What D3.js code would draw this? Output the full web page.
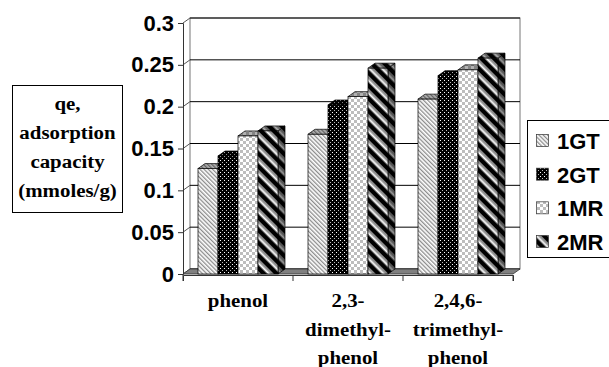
<!DOCTYPE html>
<html>
<head>
<meta charset="utf-8">
<script src="https://cdn.jsdelivr.net/npm/d3@7"></script>
<style>
    body { margin: 0; background: #fff; }
    svg { display: block; }
    .serif { font-family: "Liberation Serif", "Times New Roman", serif; font-weight: bold; font-size: 18px; }
    .sans { font-family: "Liberation Sans", Arial, sans-serif; font-weight: bold; font-size: 22px; }
</style>
</head>
<body>
<div id="chart"></div>
<script>
const categories = ['phenol', '2,3-dimethyl-phenol', '2,4,6-trimethyl-phenol'];
const categoryLines = [['phenol'], ['2,3-', 'dimethyl-', 'phenol'], ['2,4,6-', 'trimethyl-', 'phenol']];
const seriesNames = ['1GT', '2GT', '1MR', '2MR'];
const values1GT = [0.126, 0.167, 0.209];
const values2GT = [0.141, 0.202, 0.237];
const values1MR = [0.165, 0.212, 0.244];
const values2MR = [0.171, 0.246, 0.258];
const yTicks = [0, 0.05, 0.1, 0.15, 0.2, 0.25, 0.3];
const yLabelLines = ['qe,', 'adsorption', 'capacity', '(mmoles/g)'];

const seriesValues = [values1GT, values2GT, values1MR, values2MR];
const width = 609, height = 367;
const depth = { dx: 7, dy: -5 };
const stretch = 1.16; // serif labels are wider than tall in the original

const svg = d3.select('#chart')
    .append('svg')
    .attr('width', width)
    .attr('height', height);

const x0 = d3.scaleBand().domain(categories).range([183, 513]);
const x1 = d3.scaleBand().domain(seriesNames).range([15, 95]);
const y = d3.scaleLinear().domain([0, 0.3]).range([274, 23]);

// Fill patterns
const defs = svg.append('defs');

const p1 = defs.append('pattern').attr('id', 'pat-1GT')
    .attr('patternUnits', 'userSpaceOnUse').attr('width', 3).attr('height', 3)
    .attr('patternTransform', 'rotate(-45)');
p1.append('rect').attr('width', 3).attr('height', 3).attr('fill', '#fff');
p1.append('rect').attr('width', 1.3).attr('height', 3).attr('fill', '#8c8c8c');

const p2 = defs.append('pattern').attr('id', 'pat-2GT')
    .attr('patternUnits', 'userSpaceOnUse').attr('width', 4).attr('height', 4);
p2.append('rect').attr('width', 4).attr('height', 4).attr('fill', '#000');
p2.append('rect').attr('width', 1).attr('height', 1).attr('fill', '#fff');
p2.append('rect').attr('x', 2).attr('y', 2).attr('width', 1).attr('height', 1).attr('fill', '#bbb');

const p3 = defs.append('pattern').attr('id', 'pat-1MR')
    .attr('patternUnits', 'userSpaceOnUse').attr('width', 6).attr('height', 6);
p3.append('rect').attr('width', 6).attr('height', 6).attr('fill', '#fff');
p3.append('rect').attr('width', 3).attr('height', 3).attr('fill', '#bdbdbd');
p3.append('rect').attr('x', 3).attr('y', 3).attr('width', 3).attr('height', 3).attr('fill', '#bdbdbd');

const p4 = defs.append('pattern').attr('id', 'pat-2MR')
    .attr('patternUnits', 'userSpaceOnUse').attr('width', 9).attr('height', 9)
    .attr('patternTransform', 'rotate(-45)');
p4.append('rect').attr('width', 9).attr('height', 9).attr('fill', '#fff');
p4.append('rect').attr('width', 4.5).attr('height', 9).attr('fill', '#000');
p4.append('rect').attr('x', 6.5).attr('width', 2.5).attr('height', 9).attr('fill', '#8c8c8c');

const fillFor = name => `url(#pat-${name})`;

const [xLeft, xRight] = x0.range();

// Back wall
svg.append('rect')
    .attr('x', xLeft + depth.dx)
    .attr('y', y(0.3) + depth.dy)
    .attr('width', xRight - xLeft)
    .attr('height', y(0) - y(0.3))
    .attr('fill', '#fff')
    .attr('stroke', '#777')
    .attr('stroke-width', 1);

// Grid lines on the back wall, with the short diagonal across the side wall
yTicks.forEach(v => {
    svg.append('line')
        .attr('x1', xLeft + depth.dx).attr('x2', xRight + depth.dx)
        .attr('y1', y(v) + depth.dy).attr('y2', y(v) + depth.dy)
        .attr('stroke', '#000');
    svg.append('line')
        .attr('x1', xLeft).attr('x2', xLeft + depth.dx)
        .attr('y1', y(v)).attr('y2', y(v) + depth.dy)
        .attr('stroke', '#555');
});

// Floor
svg.append('path')
    .attr('d', `M${xLeft},${y(0)} L${xRight},${y(0)} L${xRight + depth.dx},${y(0) + depth.dy} L${xLeft + depth.dx},${y(0) + depth.dy} Z`)
    .attr('fill', '#808080')
    .attr('stroke', '#333')
    .attr('stroke-width', 0.8);

// Y axis
svg.append('g')
    .attr('transform', `translate(${xLeft},0)`)
    .call(d3.axisLeft(y).tickValues(yTicks).tickSize(5).tickPadding(4).tickFormat(d => String(d)))
    .call(g => g.select('.domain').attr('stroke', '#333'))
    .call(g => g.selectAll('line').attr('stroke', '#333'))
    .selectAll('text')
    .attr('class', 'sans')
    .attr('fill', '#000');

// X axis
svg.append('g')
    .attr('transform', `translate(0,${y(0) + 1})`)
    .call(d3.axisBottom(x0).tickSize(6).tickFormat(''))
    .call(g => g.selectAll('.tick').remove())
    .call(g => g.select('.domain').attr('stroke', '#333'))
    .call(g => {
        const edges = categories.map(c => x0(c)).concat([xRight]);
        g.selectAll('line.sep')
            .data(edges)
            .join('line')
            .attr('class', 'sep')
            .attr('x1', d => d).attr('x2', d => d)
            .attr('y1', 0).attr('y2', 6)
            .attr('stroke', '#333');
    });

// 3D bars
const barW = x1.bandwidth();
categories.forEach((cat, ci) => {
    seriesNames.forEach((name, si) => {
        const v = seriesValues[si][ci];
        const bx = x0(cat) + x1(name);
        const top = y(v);
        const base = y(0);
        const g = svg.append('g');

        const sidePath = `M${bx + barW},${top} L${bx + barW + depth.dx},${top + depth.dy} L${bx + barW + depth.dx},${base + depth.dy} L${bx + barW},${base} Z`;
        const topPath = `M${bx},${top} L${bx + depth.dx},${top + depth.dy} L${bx + barW + depth.dx},${top + depth.dy} L${bx + barW},${top} Z`;

        // Side face
        g.append('path').attr('d', sidePath).attr('fill', fillFor(name));
        g.append('path').attr('d', sidePath).attr('fill', '#000').attr('fill-opacity', 0.4)
            .attr('stroke', '#000').attr('stroke-width', 0.7);

        // Top face
        g.append('path').attr('d', topPath).attr('fill', fillFor(name));
        g.append('path').attr('d', topPath).attr('fill', '#000').attr('fill-opacity', 0.3)
            .attr('stroke', '#000').attr('stroke-width', 0.7);

        // Front face
        g.append('rect')
            .attr('x', bx).attr('y', top)
            .attr('width', barW).attr('height', base - top)
            .attr('fill', fillFor(name))
            .attr('stroke', '#000').attr('stroke-width', 0.7);
    });
});

// Category labels
categoryLines.forEach((lines, ci) => {
    const cx = x0(categories[ci]) + x0.bandwidth() / 2;
    lines.forEach((line, li) => {
        svg.append('text')
            .attr('class', 'serif')
            .attr('text-anchor', 'middle')
            .attr('transform', `translate(${cx},${307 + li * 28.5}) scale(${stretch},1)`)
            .text(line);
    });
});

// Y axis title box
svg.append('rect')
    .attr('x', 12.5).attr('y', 85.5)
    .attr('width', 110).attr('height', 127)
    .attr('fill', '#fff')
    .attr('stroke', '#000');

yLabelLines.forEach((line, i) => {
    svg.append('text')
        .attr('class', 'serif')
        .attr('text-anchor', 'middle')
        .attr('transform', `translate(67.5,${110 + i * 29}) scale(${stretch},1)`)
        .text(line);
});

// Legend
const legend = svg.append('g');
legend.append('rect')
    .attr('x', 527.5).attr('y', 120.5)
    .attr('width', 100).attr('height', 137)
    .attr('fill', '#fff')
    .attr('stroke', '#000');

const legendY = d3.scalePoint().domain(seriesNames).range([141, 242]);
seriesNames.forEach(name => {
    const cy = legendY(name);
    legend.append('rect')
        .attr('x', 536.5).attr('y', cy - 6.5)
        .attr('width', 12).attr('height', 12)
        .attr('fill', fillFor(name))
        .attr('stroke', '#333').attr('stroke-width', 0.7);
    legend.append('text')
        .attr('class', 'sans')
        .attr('x', 557)
        .attr('y', cy)
        .attr('dy', '0.36em')
        .text(name);
});
</script>
</body>
</html>
